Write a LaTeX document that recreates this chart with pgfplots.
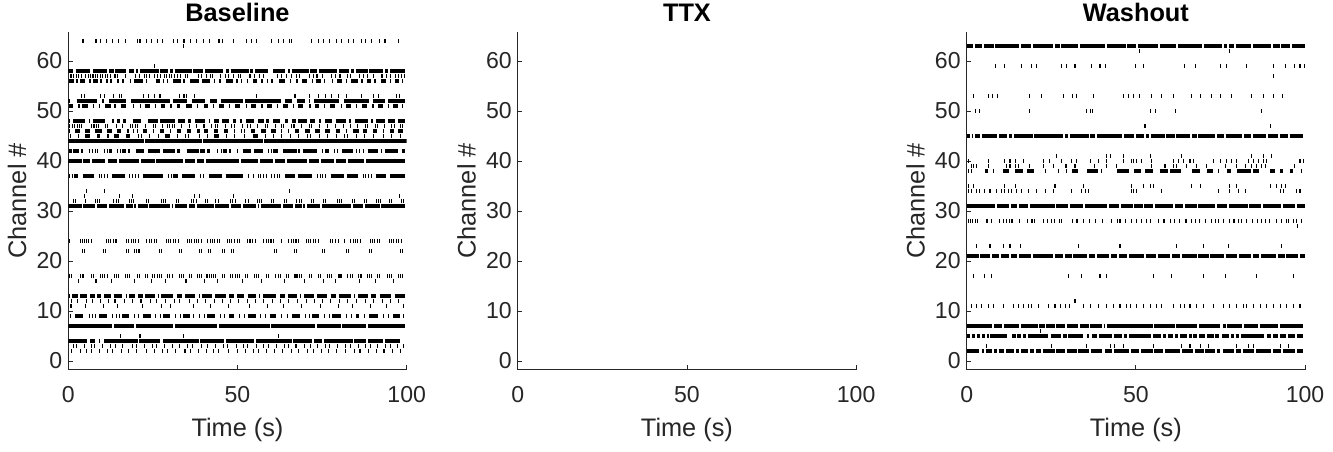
\documentclass[border=0pt]{standalone}
\usepackage{fontspec}
\setmainfont{Liberation Sans}
\usepackage{pgfplots}
\pgfplotsset{compat=1.18}
\definecolor{axgray}{rgb}{0.15,0.15,0.15}
\pgfplotsset{
 rasterax/.style={
  scale only axis, width=253.8pt, height=253.1pt,
  anchor=south west,
  xmin=0, xmax=100, ymin=-1.75, ymax=65.75,
  axis x line*=bottom, axis y line*=left,
  axis line style={axgray, line width=0.6pt},
  tick align=inside, major tick length=3.5pt,
  tick style={axgray, line width=0.6pt},
  xtick={0,50,100}, ytick={0,10,...,60},
  /pgf/number format/assume math mode=true,
  tick label style={font=\fontsize{17.3}{20}\selectfont, text=axgray},
  x tick label style={yshift=-9pt},
  y tick label style={xshift=-1pt},
  xlabel={Time (s)}, ylabel={Channel \#},
  xlabel style={at={(axis description cs:0.5,0)}, anchor=center, yshift=-45.5pt, font=\fontsize{19}{22}\selectfont, text=axgray},
  ylabel style={at={(axis description cs:-0.151,0.5)}, anchor=center, font=\fontsize{19}{22}\selectfont, text=axgray},
  every axis title/.style={at={(axis description cs:0.5,1)}, anchor=base, yshift=8pt, font=\bfseries\fontsize{19}{22}\selectfont},
 },
 seg/.style={black, line width=3pt, unbounded coords=jump, mark=none},
 spk/.style={black, only marks, mark=|, mark size=1.5pt, mark options={line width=0.8pt}},
}
\begin{document}
\begin{tikzpicture}
\useasboundingbox (0,0) rectangle (999.75pt,338.25pt);
% ---------------- Baseline ----------------
\begin{axis}[rasterax, at={(51.2pt,61pt)}, title={Baseline}]
\addplot[seg] coordinates {
(0,58)(1.3,58)(nan,nan)(2.2,58)(6.5,58)(nan,nan)(7.2,58)(11.5,58)(nan,nan)(12,58)(13.5,58)(nan,nan)(13.9,58)(17,58)(nan,nan)(18,58)(19.5,58)(nan,nan)(19.9,58)(20.5,58)(nan,nan)(21.3,58)(26.7,58)(nan,nan)(27,58)(29.5,58)(nan,nan)(30,58)(31,58)(nan,nan)(31.5,58)(36.5,58)(nan,nan)(37,58)(39.8,58)(nan,nan)(40.4,58)(45.8,58)(nan,nan)(46.5,58)(47.5,58)(nan,nan)(48,58)(53.3,58)(nan,nan)(53.8,58)(54.5,58)(nan,nan)(55.2,58)(59,58)(nan,nan)(60.5,58)(64,58)(nan,nan)(65,58)(65.5,58)(nan,nan)(66,58)(71,58)(nan,nan)(71.5,58)(73.5,58)(nan,nan)(74,58)(79.5,58)(nan,nan)(80,58)(83,58)(nan,nan)(83.5,58)(84.5,58)(nan,nan)(85,58)(88.5,58)(nan,nan)(89,58)(93,58)(nan,nan)(93.5,58)(94.5,58)(nan,nan)(95,58)(99.5,58)(nan,nan)
(0.3,56)(1.6,56)(nan,nan)(2.2,56)(2.8,56)(nan,nan)(3.5,56)(5,56)(nan,nan)(6.2,56)(6.6,56)(nan,nan)(7.4,56)(8.9,56)(nan,nan)(9.5,56)(10,56)(nan,nan)(11.2,56)(11.6,56)(nan,nan)(12.3,56)(13,56)(nan,nan)(14.5,56)(14.9,56)(nan,nan)(16,56)(16.4,56)(nan,nan)(18.2,56)(18.6,56)(nan,nan)(19.5,56)(22.1,56)(nan,nan)(23,56)(23.4,56)(nan,nan)(25.8,56)(27,56)(nan,nan)(28,56)(28.3,56)(nan,nan)(29.2,56)(29.6,56)(nan,nan)(31,56)(33.2,56)(nan,nan)(34,56)(34.4,56)(nan,nan)(36,56)(38.5,56)(nan,nan)(39.4,56)(41.9,56)(nan,nan)(43.1,56)(43.5,56)(nan,nan)(44.6,56)(45,56)(nan,nan)(46.5,56)(48.7,56)(nan,nan)(49.7,56)(50.1,56)(nan,nan)(51,56)(51.4,56)(nan,nan)(52.7,56)(53.1,56)(nan,nan)(54.5,56)(55.9,56)(nan,nan)(57,56)(57.4,56)(nan,nan)(58.6,56)(59,56)(nan,nan)(60,56)(60.4,56)(nan,nan)(62.3,56)(64,56)(nan,nan)(65.5,56)(65.9,56)(nan,nan)(67.4,56)(67.8,56)(nan,nan)(69.1,56)(70.6,56)(nan,nan)(72,56)(72.3,56)(nan,nan)(73.1,56)(74.6,56)(nan,nan)(75.6,56)(76,56)(nan,nan)(77.8,56)(78.2,56)(nan,nan)(79.5,56)(81,56)(nan,nan)(82,56)(82.4,56)(nan,nan)(83.5,56)(85.6,56)(nan,nan)(86.6,56)(87,56)(nan,nan)(88.2,56)(89.5,56)(nan,nan)(90.4,56)(90.8,56)(nan,nan)(92.4,56)(93.8,56)(nan,nan)(95.1,56)(95.5,56)(nan,nan)(96.5,56)(97.8,56)(nan,nan)(98.6,56)(99,56)(nan,nan)
(0,52)(0.5,52)(nan,nan)(2.5,52)(8.5,52)(nan,nan)(10,52)(10.5,52)(nan,nan)(12,52)(17,52)(nan,nan)(18.5,52)(30,52)(nan,nan)(31,52)(35,52)(nan,nan)(36.5,52)(40.5,52)(nan,nan)(42,52)(44,52)(nan,nan)(45,52)(51.5,52)(nan,nan)(52.3,52)(63,52)(nan,nan)(64,52)(66,52)(nan,nan)(67.5,52)(70,52)(nan,nan)(71,52)(71.5,52)(nan,nan)(72.5,52)(80,52)(nan,nan)(81.5,52)(89,52)(nan,nan)(90,52)(93.5,52)(nan,nan)(94.5,52)(99.5,52)(nan,nan)
(0.2,51)(1.5,51)(nan,nan)(3,51)(3.4,51)(nan,nan)(4.1,51)(5.8,51)(nan,nan)(7.3,51)(7.7,51)(nan,nan)(9,51)(9.4,51)(nan,nan)(11,51)(12.6,51)(nan,nan)(13.6,51)(14,51)(nan,nan)(15.5,51)(17.2,51)(nan,nan)(19,51)(19.4,51)(nan,nan)(21.1,51)(21.5,51)(nan,nan)(22.6,51)(24.1,51)(nan,nan)(25.5,51)(25.9,51)(nan,nan)(27.3,51)(28.7,51)(nan,nan)(30.2,51)(30.6,51)(nan,nan)(32,51)(33,51)(nan,nan)(34.8,51)(36.5,51)(nan,nan)(38,51)(38.4,51)(nan,nan)(40,51)(41.2,51)(nan,nan)(42.8,51)(43.2,51)(nan,nan)(44.6,51)(46,51)(nan,nan)(47.5,51)(47.9,51)(nan,nan)(49.3,51)(50.8,51)(nan,nan)(52.5,51)(52.9,51)(nan,nan)(54,51)(55.5,51)(nan,nan)(57,51)(57.4,51)(nan,nan)(58.8,51)(60.2,51)(nan,nan)(61.6,51)(62,51)(nan,nan)(63.5,51)(64.8,51)(nan,nan)(66.4,51)(66.8,51)(nan,nan)(68,51)(69.5,51)(nan,nan)(71.2,51)(71.6,51)(nan,nan)(72.8,51)(74,51)(nan,nan)(75.6,51)(76,51)(nan,nan)(77.4,51)(78.8,51)(nan,nan)(80.5,51)(80.9,51)(nan,nan)(82.1,51)(83.5,51)(nan,nan)(85,51)(85.4,51)(nan,nan)(86.8,51)(88.2,51)(nan,nan)(89.9,51)(90.3,51)(nan,nan)(91.5,51)(92.9,51)(nan,nan)(94.4,51)(94.8,51)(nan,nan)(96,51)(97.3,51)(nan,nan)(98.5,51)(99,51)(nan,nan)
(0.2,48)(0.6,48)(nan,nan)(1.5,48)(5,48)(nan,nan)(6,48)(6.5,48)(nan,nan)(7.3,48)(11,48)(nan,nan)(13,48)(13.4,48)(nan,nan)(14.5,48)(15.3,48)(nan,nan)(16.3,48)(17.2,48)(nan,nan)(19,48)(21.5,48)(nan,nan)(23.5,48)(26.5,48)(nan,nan)(27.2,48)(31.5,48)(nan,nan)(32.5,48)(34.5,48)(nan,nan)(35.5,48)(36.3,48)(nan,nan)(37.5,48)(40.5,48)(nan,nan)(41.5,48)(42,48)(nan,nan)(43,48)(44.5,48)(nan,nan)(45.5,48)(47.5,48)(nan,nan)(48.6,48)(49.6,48)(nan,nan)(50.6,48)(51.4,48)(nan,nan)(52.5,48)(55,48)(nan,nan)(56,48)(57.8,48)(nan,nan)(58.5,48)(59.2,48)(nan,nan)(60.5,48)(62.5,48)(nan,nan)(64,48)(65,48)(nan,nan)(66,48)(67.2,48)(nan,nan)(68,48)(70.5,48)(nan,nan)(71.5,48)(73,48)(nan,nan)(74,48)(74.8,48)(nan,nan)(75.8,48)(78,48)(nan,nan)(79,48)(82,48)(nan,nan)(83,48)(83.5,48)(nan,nan)(84.6,48)(88.5,48)(nan,nan)(89.6,48)(90,48)(nan,nan)(91,48)(93.6,48)(nan,nan)(94.5,48)(96.5,48)(nan,nan)(97.4,48)(99.5,48)(nan,nan)
(0.3,46)(0.6,46)(nan,nan)(2,46)(3.5,46)(nan,nan)(5,46)(6.4,46)(nan,nan)(8,46)(10,46)(nan,nan)(11.5,46)(12.8,46)(nan,nan)(14.3,46)(15.6,46)(nan,nan)(17.5,46)(17.8,46)(nan,nan)(19.2,46)(19.5,46)(nan,nan)(20.3,46)(20.6,46)(nan,nan)(22,46)(23.3,46)(nan,nan)(25,46)(25.3,46)(nan,nan)(27,46)(28.2,46)(nan,nan)(30,46)(30.3,46)(nan,nan)(32,46)(33.3,46)(nan,nan)(35,46)(36.3,46)(nan,nan)(38,46)(38.8,46)(nan,nan)(40,46)(41.3,46)(nan,nan)(43,46)(44.3,46)(nan,nan)(46,46)(47.3,46)(nan,nan)(49,46)(49.3,46)(nan,nan)(51,46)(51.3,46)(nan,nan)(52,46)(52.3,46)(nan,nan)(54,46)(55.3,46)(nan,nan)(57,46)(58.3,46)(nan,nan)(60,46)(61.3,46)(nan,nan)(63,46)(63.3,46)(nan,nan)(65,46)(65.3,46)(nan,nan)(67,46)(68.3,46)(nan,nan)(70,46)(71.3,46)(nan,nan)(73,46)(74.3,46)(nan,nan)(76,46)(77.3,46)(nan,nan)(79,46)(80.3,46)(nan,nan)(82,46)(82.3,46)(nan,nan)(84,46)(85.8,46)(nan,nan)(87,46)(88.3,46)(nan,nan)(90,46)(91.3,46)(nan,nan)(93,46)(93.3,46)(nan,nan)(95,46)(96.3,46)(nan,nan)(97.5,46)(98.8,46)(nan,nan)
(0.6,45)(0.9,45)(nan,nan)(3,45)(3.3,45)(nan,nan)(5,45)(6.5,45)(nan,nan)(8.5,45)(9.3,45)(nan,nan)(11.5,45)(12,45)(nan,nan)(13.5,45)(15,45)(nan,nan)(17,45)(18.3,45)(nan,nan)(20.5,45)(20.8,45)(nan,nan)(21.5,45)(21.8,45)(nan,nan)(24,45)(24.3,45)(nan,nan)(26.5,45)(26.8,45)(nan,nan)(28.5,45)(30,45)(nan,nan)(32,45)(32.3,45)(nan,nan)(34.5,45)(34.8,45)(nan,nan)(35.5,45)(35.8,45)(nan,nan)(38.5,45)(38.8,45)(nan,nan)(41,45)(41.3,45)(nan,nan)(43,45)(44.5,45)(nan,nan)(46.5,45)(46.8,45)(nan,nan)(49,45)(49.3,45)(nan,nan)(52,45)(52.3,45)(nan,nan)(54.5,45)(56,45)(nan,nan)(58,45)(58.3,45)(nan,nan)(60.5,45)(60.8,45)(nan,nan)(63,45)(63.3,45)(nan,nan)(65.5,45)(65.8,45)(nan,nan)(68,45)(68.3,45)(nan,nan)(70.5,45)(70.8,45)(nan,nan)(71.5,45)(71.8,45)(nan,nan)(74,45)(74.3,45)(nan,nan)(76.5,45)(76.8,45)(nan,nan)(79,45)(79.3,45)(nan,nan)(81.5,45)(81.8,45)(nan,nan)(82.3,45)(82.6,45)(nan,nan)(85,45)(85.3,45)(nan,nan)(87.5,45)(87.8,45)(nan,nan)(90,45)(90.3,45)(nan,nan)(93,45)(93.3,45)(nan,nan)(95.5,45)(95.8,45)(nan,nan)(98,45)(98.3,45)(nan,nan)
(0,44)(22.5,44)(nan,nan)(22.8,44)(39.5,44)(nan,nan)(39.8,44)(57.5,44)(nan,nan)(57.8,44)(100,44)(nan,nan)
(0.2,42)(1,42)(nan,nan)(1.5,42)(3.3,42)(nan,nan)(3.8,42)(4.5,42)(nan,nan)(6,42)(6.3,42)(nan,nan)(7,42)(7.3,42)(nan,nan)(7.8,42)(8.1,42)(nan,nan)(8.6,42)(8.9,42)(nan,nan)(10.5,42)(10.8,42)(nan,nan)(11.3,42)(11.6,42)(nan,nan)(12.1,42)(12.8,42)(nan,nan)(14.5,42)(14.8,42)(nan,nan)(15.3,42)(15.6,42)(nan,nan)(16,42)(17.2,42)(nan,nan)(17.6,42)(18.3,42)(nan,nan)(20,42)(22.5,42)(nan,nan)(23.5,42)(27,42)(nan,nan)(28,42)(31.5,42)(nan,nan)(32,42)(33,42)(nan,nan)(35,42)(38.5,42)(nan,nan)(39,42)(40.5,42)(nan,nan)(41,42)(42,42)(nan,nan)(44,42)(44.3,42)(nan,nan)(45,42)(45.3,42)(nan,nan)(45.8,42)(47,42)(nan,nan)(47.4,42)(48,42)(nan,nan)(50,42)(50.3,42)(nan,nan)(51.5,42)(54,42)(nan,nan)(55,42)(57.5,42)(nan,nan)(59,42)(59.3,42)(nan,nan)(59.8,42)(60.1,42)(nan,nan)(60.6,42)(62,42)(nan,nan)(63.5,42)(67.5,42)(nan,nan)(68,42)(68.5,42)(nan,nan)(69.5,42)(73.5,42)(nan,nan)(75,42)(75.3,42)(nan,nan)(75.8,42)(77,42)(nan,nan)(78.5,42)(78.8,42)(nan,nan)(79.3,42)(79.6,42)(nan,nan)(81,42)(84,42)(nan,nan)(85,42)(85.3,42)(nan,nan)(86,42)(86.3,42)(nan,nan)(87,42)(87.3,42)(nan,nan)(88.5,42)(91.5,42)(nan,nan)(92.5,42)(92.8,42)(nan,nan)(93.5,42)(97.5,42)(nan,nan)(98.5,42)(99.5,42)(nan,nan)
(0,40)(4,40)(nan,nan)(4.5,40)(6.5,40)(nan,nan)(7,40)(11,40)(nan,nan)(11.6,40)(14.5,40)(nan,nan)(15,40)(21,40)(nan,nan)(21.5,40)(25.5,40)(nan,nan)(26,40)(34,40)(nan,nan)(34.6,40)(37.5,40)(nan,nan)(38,40)(40,40)(nan,nan)(40.6,40)(50.5,40)(nan,nan)(51,40)(56,40)(nan,nan)(56.6,40)(60.5,40)(nan,nan)(61,40)(64,40)(nan,nan)(64.6,40)(70.5,40)(nan,nan)(71,40)(74,40)(nan,nan)(74.6,40)(78.5,40)(nan,nan)(79,40)(82,40)(nan,nan)(82.6,40)(87.5,40)(nan,nan)(88,40)(99.5,40)(nan,nan)
(0.3,37)(0.6,37)(nan,nan)(1,37)(1.3,37)(nan,nan)(1.8,37)(3,37)(nan,nan)(4.5,37)(7.5,37)(nan,nan)(9,37)(9.3,37)(nan,nan)(9.8,37)(10.1,37)(nan,nan)(10.6,37)(10.9,37)(nan,nan)(11.4,37)(11.7,37)(nan,nan)(13,37)(16.8,37)(nan,nan)(18,37)(18.3,37)(nan,nan)(18.8,37)(19.1,37)(nan,nan)(19.6,37)(19.9,37)(nan,nan)(20.5,37)(20.8,37)(nan,nan)(22,37)(28,37)(nan,nan)(29.5,37)(29.8,37)(nan,nan)(30.3,37)(30.6,37)(nan,nan)(31,37)(32.5,37)(nan,nan)(33.5,37)(37.5,37)(nan,nan)(39,37)(39.3,37)(nan,nan)(39.8,37)(40.1,37)(nan,nan)(41.5,37)(45.5,37)(nan,nan)(46.5,37)(51.5,37)(nan,nan)(53,37)(53.3,37)(nan,nan)(54.5,37)(54.8,37)(nan,nan)(56,37)(56.3,37)(nan,nan)(56.8,37)(57.1,37)(nan,nan)(57.6,37)(57.9,37)(nan,nan)(58.4,37)(58.7,37)(nan,nan)(60,37)(60.3,37)(nan,nan)(60.8,37)(61.1,37)(nan,nan)(61.6,37)(61.9,37)(nan,nan)(62.4,37)(62.7,37)(nan,nan)(64,37)(67,37)(nan,nan)(68,37)(72,37)(nan,nan)(73.5,37)(73.8,37)(nan,nan)(74.3,37)(74.6,37)(nan,nan)(75.1,37)(75.4,37)(nan,nan)(75.9,37)(76.2,37)(nan,nan)(77.5,37)(81.5,37)(nan,nan)(82.5,37)(85.5,37)(nan,nan)(87,37)(87.3,37)(nan,nan)(87.8,37)(88.1,37)(nan,nan)(88.6,37)(88.9,37)(nan,nan)(89.4,37)(89.7,37)(nan,nan)(91,37)(94,37)(nan,nan)(95,37)(99.5,37)(nan,nan)
(0,31)(4,31)(nan,nan)(4.5,31)(8,31)(nan,nan)(8.6,31)(11.5,31)(nan,nan)(12,31)(16.5,31)(nan,nan)(17,31)(19,31)(nan,nan)(19.5,31)(20,31)(nan,nan)(20.6,31)(23.5,31)(nan,nan)(24,31)(30,31)(nan,nan)(30.6,31)(31,31)(nan,nan)(31.5,31)(35,31)(nan,nan)(35.6,31)(37.5,31)(nan,nan)(38,31)(43,31)(nan,nan)(43.5,31)(47.5,31)(nan,nan)(48,31)(51,31)(nan,nan)(51.6,31)(55.5,31)(nan,nan)(56,31)(56.5,31)(nan,nan)(57,31)(63,31)(nan,nan)(63.5,31)(66.5,31)(nan,nan)(67,31)(69,31)(nan,nan)(69.5,31)(70,31)(nan,nan)(70.6,31)(74.5,31)(nan,nan)(75,31)(83.5,31)(nan,nan)(84,31)(87,31)(nan,nan)(87.6,31)(92,31)(nan,nan)(92.5,31)(99.5,31)(nan,nan)
(0.2,13)(0.5,13)(nan,nan)(1.2,13)(3,13)(nan,nan)(3.6,13)(5.5,13)(nan,nan)(6.5,13)(7.8,13)(nan,nan)(8.4,13)(9.7,13)(nan,nan)(10.6,13)(12.5,13)(nan,nan)(13.5,13)(16,13)(nan,nan)(17,13)(17.3,13)(nan,nan)(18,13)(19.8,13)(nan,nan)(20.6,13)(22,13)(nan,nan)(22.8,13)(25.5,13)(nan,nan)(26.5,13)(26.8,13)(nan,nan)(27.5,13)(31,13)(nan,nan)(32,13)(33.5,13)(nan,nan)(34.5,13)(37.5,13)(nan,nan)(38.5,13)(38.8,13)(nan,nan)(39.6,13)(42.5,13)(nan,nan)(43.5,13)(46.5,13)(nan,nan)(47.5,13)(49,13)(nan,nan)(50,13)(52,13)(nan,nan)(53,13)(55.5,13)(nan,nan)(56.5,13)(56.8,13)(nan,nan)(57.6,13)(61.5,13)(nan,nan)(62.5,13)(64,13)(nan,nan)(65,13)(67.5,13)(nan,nan)(68.5,13)(68.8,13)(nan,nan)(69.6,13)(72.5,13)(nan,nan)(73.5,13)(76.5,13)(nan,nan)(77.5,13)(79,13)(nan,nan)(80,13)(83.5,13)(nan,nan)(84.5,13)(84.8,13)(nan,nan)(85.6,13)(88.5,13)(nan,nan)(89.5,13)(91,13)(nan,nan)(92,13)(95.5,13)(nan,nan)(96.5,13)(99.5,13)(nan,nan)
(0.5,9)(0.8,9)(nan,nan)(2,9)(4.5,9)(nan,nan)(6,9)(6.3,9)(nan,nan)(7,9)(7.3,9)(nan,nan)(7.8,9)(8.1,9)(nan,nan)(9,9)(11.5,9)(nan,nan)(13,9)(13.3,9)(nan,nan)(14,9)(14.3,9)(nan,nan)(15,9)(15.3,9)(nan,nan)(16,9)(18,9)(nan,nan)(19.5,9)(19.8,9)(nan,nan)(20.5,9)(20.8,9)(nan,nan)(22,9)(24.5,9)(nan,nan)(25.5,9)(25.8,9)(nan,nan)(27,9)(27.3,9)(nan,nan)(28,9)(30,9)(nan,nan)(31.5,9)(31.8,9)(nan,nan)(33,9)(33.3,9)(nan,nan)(34,9)(36,9)(nan,nan)(37,9)(37.3,9)(nan,nan)(38.5,9)(38.8,9)(nan,nan)(40,9)(40.3,9)(nan,nan)(41,9)(43.5,9)(nan,nan)(44.8,9)(45.1,9)(nan,nan)(46,9)(46.3,9)(nan,nan)(47.5,9)(49,9)(nan,nan)(50.5,9)(50.8,9)(nan,nan)(52,9)(52.3,9)(nan,nan)(53,9)(55.5,9)(nan,nan)(56.8,9)(57.1,9)(nan,nan)(58,9)(58.3,9)(nan,nan)(59.5,9)(61.5,9)(nan,nan)(63,9)(63.3,9)(nan,nan)(64.5,9)(64.8,9)(nan,nan)(66,9)(68.5,9)(nan,nan)(70,9)(70.3,9)(nan,nan)(71,9)(71.3,9)(nan,nan)(72,9)(74,9)(nan,nan)(75.5,9)(75.8,9)(nan,nan)(77,9)(77.3,9)(nan,nan)(78,9)(80.5,9)(nan,nan)(82,9)(82.3,9)(nan,nan)(83.5,9)(83.8,9)(nan,nan)(85,9)(86,9)(nan,nan)(87.5,9)(87.8,9)(nan,nan)(89,9)(91.5,9)(nan,nan)(93,9)(93.3,9)(nan,nan)(94.5,9)(94.8,9)(nan,nan)(96,9)(98,9)(nan,nan)(99,9)(99.3,9)(nan,nan)
(0,7)(13,7)(nan,nan)(13.5,7)(19.5,7)(nan,nan)(20,7)(31,7)(nan,nan)(31.5,7)(44,7)(nan,nan)(44.5,7)(59.5,7)(nan,nan)(60,7)(73,7)(nan,nan)(73.5,7)(80.5,7)(nan,nan)(81,7)(88,7)(nan,nan)(88.5,7)(99.5,7)(nan,nan)
(0,4)(5.5,4)(nan,nan)(6.5,4)(8,4)(nan,nan)(9,4)(9.5,4)(nan,nan)(10.5,4)(20.5,4)(nan,nan)(21,4)(27,4)(nan,nan)(28,4)(38.5,4)(nan,nan)(39,4)(46,4)(nan,nan)(46.5,4)(55,4)(nan,nan)(55.5,4)(66,4)(nan,nan)(66.5,4)(72,4)(nan,nan)(72.6,4)(75,4)(nan,nan)(75.5,4)(84,4)(nan,nan)(84.5,4)(88,4)(nan,nan)(88.5,4)(93,4)(nan,nan)(93.5,4)(98,4)
};
\addplot[spk] coordinates {
(4.2,64)(4.6,64)(8.2,64)(9.6,64)(11.3,64)(13.1,64)(14.9,64)(16.8,64)(20.4,64)(21.2,64)(23,64)(24.7,64)(26.3,64)(27.8,64)(31,64)(32.2,64)(34.2,64)(36,64)(37.9,64)(39.9,64)(41.7,64)(44.3,64)(44.8,64)(45.6,64)(48.8,64)(52.7,64)(54.2,64)(55.7,64)(60.1,64)(62.1,64)(63.6,64)(65.5,64)(66,64)(71.9,64)(73.9,64)(75.4,64)(77.3,64)(79.3,64)(80.8,64)(82.8,64)(84.2,64)(86.7,64)(87.7,64)(89.6,64)(92.1,64)(93.6,64)(97.5,64)
(34,63)(25.4,59)
(0.8,57)(1.6,57)(2.5,57)(3.1,57)(4,57)(5.2,57)(5.9,57)(6.5,57)(7.3,57)(8,57)(8.6,57)(9.5,57)(10.2,57)(11,57)(11.7,57)(12.5,57)(13.8,57)(14.6,57)(16.9,57)(19.8,57)(21,57)(22.4,57)(23.1,57)(24,57)(25.5,57)(26.3,57)(27.2,57)(28.4,57)(29.1,57)(29.8,57)(30.6,57)(31.5,57)(32.4,57)(33.2,57)(34.6,57)(35.3,57)(38.6,57)(39.4,57)(40.8,57)(42,57)(42.7,57)(45.1,57)(46.6,57)(47.3,57)(48.9,57)(50.3,57)(51,57)(53.7,57)(55,57)(56.4,57)(57.8,57)(61.9,57)(63,57)(64.6,57)(66,57)(67.5,57)(68.3,57)(71.3,57)(72.6,57)(73.5,57)(75.2,57)(77.9,57)(79.1,57)(80.3,57)(82.6,57)(83.5,57)(86,57)(87.2,57)(88.5,57)(90.1,57)(92.7,57)(94,57)(95.1,57)(96.8,57)(97.6,57)(98.6,57)(99.4,57)
(3.9,53)(4.9,53)(9.4,53)(10.8,53)(13.3,53)(15.1,53)(15.8,53)(22.2,53)(23.6,53)(25.6,53)(27.1,53)(33,53)(34.2,53)(35,53)(37.4,53)(55.7,53)(67,53)(71.4,53)(73.9,53)(75.9,53)(77.8,53)(79.8,53)(82.3,53)(86.7,53)(90.1,53)(91.6,53)(97,53)(98,53)
(0.5,47)(1.2,47)(1.9,47)(2.6,47)(3.3,47)(4,47)(7,47)(7.6,47)(8.3,47)(9,47)(11,47)(11.7,47)(14.2,47)(16,47)(18.5,47)(19.1,47)(19.8,47)(20.4,47)(22.7,47)(25.2,47)(25.9,47)(27.8,47)(29.3,47)(30,47)(30.7,47)(31.4,47)(33.5,47)(35.8,47)(38,47)(40.1,47)(42.3,47)(43.5,47)(44.2,47)(46.4,47)(48.3,47)(49,47)(51.6,47)(53.1,47)(53.8,47)(56,47)(58.3,47)(59,47)(61.2,47)(63,47)(63.7,47)(66,47)(66.7,47)(69,47)(71.2,47)(71.9,47)(74.3,47)(76.5,47)(79,47)(81.2,47)(83.5,47)(85.6,47)(87.8,47)(88.5,47)(90.7,47)(91.4,47)(93.5,47)(95.6,47)(96.3,47)(98.2,47)(98.9,47)
(5.4,34)(10.8,34)(65.3,34)
(4.7,33)(15.1,33)(19,33)(37.2,33)(38.9,33)(48.8,33)(97.8,33)
(1.5,32)(2.1,32)(5,32)(8,32)(8.6,32)(9.3,32)(13.5,32)(14.2,32)(14.8,32)(18,32)(18.7,32)(19.3,32)(23,32)(23.6,32)(27.5,32)(28.2,32)(28.8,32)(32,32)(32.6,32)(36.5,32)(37.1,32)(37.8,32)(40.5,32)(41.2,32)(43.6,32)(44.3,32)(48,32)(48.6,32)(49.3,32)(52.5,32)(53.2,32)(55.8,32)(56.4,32)(57,32)(60.1,32)(60.7,32)(64,32)(64.6,32)(67.5,32)(68.2,32)(68.8,32)(72,32)(72.6,32)(75.5,32)(76.1,32)(79.5,32)(80.2,32)(80.8,32)(84,32)(84.6,32)(87.6,32)(88.2,32)(91,32)(91.7,32)(92.3,32)(95,32)(95.6,32)(98.5,32)(99.1,32)
(0.5,24)(3.6,24)(4.2,24)(4.8,24)(5.4,24)(6,24)(6.8,24)(11.2,24)(11.8,24)(12.5,24)(13.3,24)(14.1,24)(17.3,24)(17.9,24)(18.6,24)(19.3,24)(20,24)(20.8,24)(23.2,24)(23.9,24)(24.6,24)(25.4,24)(26.2,24)(29,24)(29.6,24)(30.3,24)(31,24)(31.7,24)(32.5,24)(35.2,24)(35.8,24)(36.5,24)(37.2,24)(37.9,24)(38.6,24)(39.3,24)(41.2,24)(41.9,24)(42.6,24)(43.3,24)(44,24)(44.8,24)(47,24)(47.6,24)(48.3,24)(49.1,24)(49.9,24)(50.7,24)(53,24)(53.7,24)(54.5,24)(55.3,24)(57.8,24)(58.5,24)(59.2,24)(59.9,24)(60.6,24)(63,24)(65.2,24)(65.9,24)(66.6,24)(67.3,24)(68,24)(70.3,24)(71,24)(71.7,24)(72.4,24)(73.1,24)(73.9,24)(77.5,24)(78.2,24)(79,24)(79.8,24)(81.5,24)(83.5,24)(84.2,24)(84.9,24)(85.6,24)(86.4,24)(89.2,24)(89.9,24)(90.6,24)(91.3,24)(92.1,24)(94.8,24)(95.5,24)(96.2,24)(96.9,24)(97.7,24)(98.4,24)
(4.2,22)(4.8,22)(10.4,22)(11,22)(17.2,22)(17.8,22)(19.6,22)(20.2,22)(20.9,22)(26.9,22)(27.5,22)(32.8,22)(33.4,22)(38.7,22)(39.3,22)(41.4,22)(42,22)(45.6,22)(46.2,22)(48.3,22)(48.9,22)(60.9,22)(61.5,22)(66.8,22)(67.4,22)(75.2,22)(75.8,22)(82.1,22)(82.7,22)(89,22)(89.6,22)(98.2,22)(98.8,22)
(0.4,17)(1,17)(3.5,17)(4.1,17)(4.6,17)(6.8,17)(7.4,17)(9.5,17)(10.2,17)(10.8,17)(11.5,17)(13.6,17)(14.2,17)(14.9,17)(16.8,17)(17.4,17)(18.1,17)(20.5,17)(21.1,17)(22.7,17)(23.4,17)(25,17)(25.6,17)(26.3,17)(27,17)(27.6,17)(29.4,17)(30,17)(30.7,17)(32.8,17)(33.4,17)(34.1,17)(35.9,17)(36.5,17)(38.1,17)(38.8,17)(39.4,17)(41,17)(41.6,17)(42.3,17)(43,17)(43.6,17)(45.5,17)(46.1,17)(48,17)(48.6,17)(49.3,17)(50,17)(50.6,17)(52.5,17)(53.1,17)(55,17)(55.6,17)(56.3,17)(58.6,17)(59.2,17)(61.3,17)(62,17)(62.6,17)(64.5,17)(65.1,17)(67,17)(67.6,17)(68.3,17)(69,17)(71.2,17)(71.9,17)(74,17)(74.6,17)(76.6,17)(77.3,17)(77.9,17)(80,17)(80.6,17)(82.6,17)(83.3,17)(84,17)(85.8,17)(86.5,17)(88.4,17)(89,17)(89.6,17)(91.5,17)(92.1,17)(94.3,17)(95,17)(95.6,17)(97.5,17)(98.1,17)(98.7,17)
(3,16)(8.2,16)(12.8,16)(19.5,16)(24.5,16)(28.7,16)(34.8,16)(40.3,16)(44,16)(51.5,16)(57,16)(63.8,16)(69.7,16)(75.3,16)(79.1,16)(86,16)(90.8,16)(96.2,16)
(1,12)(2.8,12)(5.5,12)(7.2,12)(9.5,12)(12,12)(13.8,12)(16.5,12)(19,12)(21.5,12)(24.3,12)(26,12)(28.8,12)(31.5,12)(33,12)(35.8,12)(38.2,12)(40.5,12)(43.3,12)(45.6,12)(48,12)(50.2,12)(52.9,12)(55.2,12)(57.6,12)(60.3,12)(62.8,12)(65.1,12)(67.8,12)(70.4,12)(72.9,12)(75.1,12)(77.6,12)(80.2,12)(82.6,12)(85.3,12)(87.7,12)(90.2,12)(92.8,12)(95.3,12)(97.6,12)
(0.8,11)(5,11)(10.3,11)(14.6,11)(22,11)(27.5,11)(30.1,11)(36.9,11)(42,11)(47.3,11)(53.6,11)(59,11)(63.5,11)(68.9,11)(74.4,11)(79.8,11)(83.9,11)(89.4,11)(94,11)(99,11)
(15.3,5)(21.2,5)(34,5)(62,5)
(1.5,3)(2.3,3)(4.7,3)(7,3)(7.8,3)(10.2,3)(12.5,3)(14,3)(16.1,3)(18.9,3)(20.3,3)(22.5,3)(24.8,3)(26,3)(28.4,3)(30.9,3)(33,3)(35.3,3)(36.8,3)(39.5,3)(41.2,3)(43.4,3)(45.9,3)(47.1,3)(49.6,3)(51.7,3)(53,3)(55.5,3)(57.8,3)(59.1,3)(61.6,3)(63.9,3)(65.2,3)(67.3,3)(69.8,3)(71.5,3)(73.6,3)(75.9,3)(77.2,3)(79.6,3)(82,3)(83.3,3)(85.7,3)(87.9,3)(89.2,3)(91.5,3)(93.8,3)(95.1,3)(97.3,3)(99,3)
(1,2)(3.5,2)(5.5,2)(6.9,2)(9.2,2)(11.6,2)(13,2)(15.6,2)(17.8,2)(20.2,2)(23,2)(25.4,2)(27.9,2)(29.3,2)(31.8,2)(34.5,2)(36.1,2)(38.4,2)(40.8,2)(43,2)(44.5,2)(47.4,2)(50,2)(52.3,2)(54.8,2)(56.2,2)(58.6,2)(61,2)(63.4,2)(65.9,2)(68.1,2)(70.6,2)(72.4,2)(74.9,2)(77,2)(79.3,2)(81.9,2)(84.5,2)(86.2,2)(88.8,2)(91,2)(93.3,2)(95.8,2)(98.2,2)
};
\end{axis}
% ---------------- TTX ----------------
\begin{axis}[rasterax, at={(388.3pt,61pt)}, title={TTX}]
\end{axis}
% ---------------- Washout ----------------
\begin{axis}[rasterax, at={(725pt,61pt)}, title={Washout}]
\addplot[seg] coordinates {
(0,63)(2,63)(nan,nan)(2.4,63)(4.5,63)(nan,nan)(5,63)(8,63)(nan,nan)(8.5,63)(15.5,63)(nan,nan)(16,63)(19,63)(nan,nan)(19.5,63)(25.5,63)(nan,nan)(26,63)(27.5,63)(nan,nan)(28,63)(33,63)(nan,nan)(33.5,63)(41,63)(nan,nan)(41.5,63)(47,63)(nan,nan)(47.5,63)(50,63)(nan,nan)(50.6,63)(56.5,63)(nan,nan)(57,63)(62,63)(nan,nan)(62.5,63)(69.5,63)(nan,nan)(70,63)(75.5,63)(nan,nan)(76,63)(77,63)(nan,nan)(77.5,63)(79,63)(nan,nan)(79.6,63)(84,63)(nan,nan)(84.5,63)(90,63)(nan,nan)(90.5,63)(92.5,63)(nan,nan)(93,63)(95.5,63)(nan,nan)(96,63)(100,63)(nan,nan)
(0,45)(1,45)(nan,nan)(1.5,45)(2,45)(nan,nan)(2.5,45)(4,45)(nan,nan)(4.5,45)(9,45)(nan,nan)(9.5,45)(12,45)(nan,nan)(12.5,45)(13.5,45)(nan,nan)(14,45)(19.5,45)(nan,nan)(20,45)(28.5,45)(nan,nan)(29,45)(30,45)(nan,nan)(30.5,45)(36,45)(nan,nan)(36.5,45)(38,45)(nan,nan)(38.5,45)(46,45)(nan,nan)(46.6,45)(49.5,45)(nan,nan)(50,45)(52.5,45)(nan,nan)(53,45)(54,45)(nan,nan)(54.6,45)(58.5,45)(nan,nan)(59,45)(61.5,45)(nan,nan)(62,45)(66,45)(nan,nan)(66.5,45)(68,45)(nan,nan)(68.5,45)(73.5,45)(nan,nan)(74,45)(76,45)(nan,nan)(76.5,45)(81.5,45)(nan,nan)(82,45)(84,45)(nan,nan)(84.5,45)(88.5,45)(nan,nan)(89,45)(92,45)(nan,nan)(92.5,45)(95,45)(nan,nan)(95.5,45)(99.5,45)(nan,nan)
(5.4,38)(6.4,38)(nan,nan)(10.8,38)(12.6,38)(nan,nan)(14.3,38)(16.5,38)(nan,nan)(17.7,38)(20,38)(nan,nan)(31,38)(32.8,38)(nan,nan)(35.5,38)(38.7,38)(nan,nan)(44.3,38)(48,38)(nan,nan)(49.3,38)(51.5,38)(nan,nan)(52.7,38)(55,38)(nan,nan)(57.1,38)(59.4,38)(nan,nan)(60.1,38)(63.3,38)(nan,nan)(66.5,38)(68.8,38)(nan,nan)(70.9,38)(72.7,38)(nan,nan)(76.8,38)(78.1,38)(nan,nan)(79.8,38)(84,38)(nan,nan)(84.7,38)(86.5,38)(nan,nan)(89.7,38)(91,38)(nan,nan)(92.6,38)(93.5,38)(nan,nan)(95.6,38)(96.5,38)(nan,nan)
(0,31)(8.5,31)(nan,nan)(9,31)(12.5,31)(nan,nan)(13,31)(15,31)(nan,nan)(15.5,31)(18,31)(nan,nan)(18.6,31)(26,31)(nan,nan)(26.5,31)(30,31)(nan,nan)(30.5,31)(34.5,31)(nan,nan)(35,31)(41.5,31)(nan,nan)(42,31)(45,31)(nan,nan)(45.6,31)(49,31)(nan,nan)(49.5,31)(52,31)(nan,nan)(52.5,31)(55,31)(nan,nan)(55.6,31)(61,31)(nan,nan)(61.5,31)(64,31)(nan,nan)(64.6,31)(68,31)(nan,nan)(68.5,31)(73.5,31)(nan,nan)(74,31)(77,31)(nan,nan)(77.6,31)(83,31)(nan,nan)(83.5,31)(87,31)(nan,nan)(87.5,31)(93,31)(nan,nan)(93.6,31)(97,31)(nan,nan)(97.5,31)(100,31)(nan,nan)
(0,21)(3.5,21)(nan,nan)(4,21)(7,21)(nan,nan)(7.5,21)(9.5,21)(nan,nan)(10,21)(12.5,21)(nan,nan)(13,21)(15,21)(nan,nan)(15.5,21)(19,21)(nan,nan)(19.5,21)(25.5,21)(nan,nan)(26,21)(28.5,21)(nan,nan)(29,21)(31,21)(nan,nan)(31.5,21)(35.5,21)(nan,nan)(36,21)(38,21)(nan,nan)(38.5,21)(42,21)(nan,nan)(42.5,21)(44.5,21)(nan,nan)(45,21)(47.5,21)(nan,nan)(48,21)(52.5,21)(nan,nan)(53,21)(56,21)(nan,nan)(56.5,21)(60,21)(nan,nan)(60.6,21)(63,21)(nan,nan)(63.5,21)(68,21)(nan,nan)(68.5,21)(71.5,21)(nan,nan)(72,21)(76,21)(nan,nan)(76.6,21)(80,21)(nan,nan)(80.5,21)(84,21)(nan,nan)(84.5,21)(86.5,21)(nan,nan)(87,21)(91.5,21)(nan,nan)(92,21)(94,21)(nan,nan)(94.5,21)(98,21)(nan,nan)(98.5,21)(100,21)(nan,nan)
(0,7)(7.5,7)(nan,nan)(8,7)(10.5,7)(nan,nan)(11,7)(15.5,7)(nan,nan)(16,7)(21,7)(nan,nan)(21.5,7)(23,7)(nan,nan)(23.5,7)(26,7)(nan,nan)(26.5,7)(29,7)(nan,nan)(29.5,7)(33,7)(nan,nan)(33.5,7)(36,7)(nan,nan)(36.5,7)(40,7)(nan,nan)(40.5,7)(41,7)(nan,nan)(41.6,7)(55,7)(nan,nan)(55.5,7)(61.5,7)(nan,nan)(62,7)(68,7)(nan,nan)(68.6,7)(75,7)(nan,nan)(75.6,7)(76.5,7)(nan,nan)(77,7)(81.5,7)(nan,nan)(82,7)(86,7)(nan,nan)(86.6,7)(92,7)(nan,nan)(92.6,7)(99.5,7)(nan,nan)
(0,5)(1,5)(nan,nan)(1.6,5)(2.5,5)(nan,nan)(3,5)(4,5)(nan,nan)(4.6,5)(5.5,5)(nan,nan)(6,5)(6.5,5)(nan,nan)(7,5)(12,5)(nan,nan)(13.5,5)(14.5,5)(nan,nan)(15,5)(16,5)(nan,nan)(16.6,5)(17.5,5)(nan,nan)(18,5)(24,5)(nan,nan)(25,5)(28,5)(nan,nan)(28.6,5)(29.5,5)(nan,nan)(30,5)(34.5,5)(nan,nan)(35.5,5)(36,5)(nan,nan)(37,5)(38.5,5)(nan,nan)(39,5)(43,5)(nan,nan)(43.6,5)(46,5)(nan,nan)(46.5,5)(47.5,5)(nan,nan)(48,5)(54.5,5)(nan,nan)(55,5)(57.5,5)(nan,nan)(58,5)(59,5)(nan,nan)(59.6,5)(61,5)(nan,nan)(61.5,5)(62.5,5)(nan,nan)(63,5)(65,5)(nan,nan)(65.6,5)(66.5,5)(nan,nan)(67,5)(68,5)(nan,nan)(68.6,5)(70.5,5)(nan,nan)(71,5)(73,5)(nan,nan)(73.5,5)(74.5,5)(nan,nan)(75.5,5)(77.5,5)(nan,nan)(78,5)(79,5)(nan,nan)(79.5,5)(80.5,5)(nan,nan)(81,5)(88,5)(nan,nan)(88.6,5)(90,5)(nan,nan)(90.5,5)(92,5)(nan,nan)(92.5,5)(94.5,5)(nan,nan)(95,5)(97,5)(nan,nan)(97.5,5)(99.5,5)(nan,nan)
(0,2)(3.5,2)(nan,nan)(4.5,2)(5,2)(nan,nan)(5.6,2)(7.5,2)(nan,nan)(8,2)(9,2)(nan,nan)(9.5,2)(11,2)(nan,nan)(11.6,2)(14,2)(nan,nan)(14.5,2)(15.5,2)(nan,nan)(16,2)(18,2)(nan,nan)(18.6,2)(20,2)(nan,nan)(20.5,2)(22,2)(nan,nan)(22.6,2)(26,2)(nan,nan)(26.5,2)(29,2)(nan,nan)(29.5,2)(32.5,2)(nan,nan)(33,2)(36,2)(nan,nan)(36.6,2)(40,2)(nan,nan)(41,2)(43,2)(nan,nan)(43.6,2)(48,2)(nan,nan)(48.5,2)(51,2)(nan,nan)(51.6,2)(55,2)(nan,nan)(55.5,2)(58,2)(nan,nan)(58.5,2)(63,2)(nan,nan)(63.6,2)(67,2)(nan,nan)(67.5,2)(70,2)(nan,nan)(70.5,2)(73.5,2)(nan,nan)(74,2)(75,2)(nan,nan)(75.6,2)(79,2)(nan,nan)(79.5,2)(81,2)(nan,nan)(81.6,2)(85,2)(nan,nan)(85.5,2)(90,2)(nan,nan)(90.6,2)(93,2)(nan,nan)(93.5,2)(97,2)(nan,nan)(97.6,2)(99.5,2)
};
\addplot[spk] coordinates {
(51,62)(77.6,62)
(8.4,59)(11.3,59)(16.3,59)(19.2,59)(20.7,59)(28.1,59)(29.4,59)(32,59)(36.9,59)(39.4,59)(40.9,59)(49.8,59)(52.2,59)(64.5,59)(67.5,59)(74.9,59)(76.8,59)(82.6,59)(90.6,59)(94.1,59)(97,59)(98.5,59)(99.8,59)
(90.6,57)
(2,53)(6.4,53)(7.7,53)(9.1,53)(18.5,53)(22.2,53)(28.6,53)(31.3,53)(32.5,53)(37.4,53)(46.3,53)(47.8,53)(49.3,53)(51.2,53)(54.7,53)(57.6,53)(61.1,53)(66.5,53)(69,53)(72.4,53)(74.9,53)(78.3,53)(84.2,53)(87.7,53)(90.6,53)(93.4,53)
(2.5,50)(3.9,50)(18.7,50)(35.5,50)(36.7,50)(37.2,50)(54.2,50)(55.7,50)(61.6,50)(87.2,50)
(52.7,47)(89.7,47)
(26.6,41)(41.4,41)(42.4,41)(46.3,41)(54.2,41)(63.5,41)(84.2,41)(87.7,41)(90.1,41)
(0.5,40)(6.4,40)(11.3,40)(12.8,40)(14.3,40)(16.7,40)(22.7,40)(24.6,40)(28.1,40)(31,40)(32.5,40)(36.5,40)(38.9,40)(41.4,40)(46.3,40)(48.8,40)(49.3,40)(50.2,40)(51.7,40)(54.7,40)(61.1,40)(62.6,40)(64,40)(66,40)(67,40)(72.9,40)(74.9,40)(76.8,40)(78.3,40)(79.8,40)(83.3,40)(84.7,40)(86.2,40)(87.7,40)(88.7,40)(98.5,40)(99.5,40)
(1.5,39)(2,39)(3,39)(6.4,39)(11.8,39)(12.8,39)(14.3,39)(15.3,39)(18.7,39)(22.7,39)(25.6,39)(29.1,39)(29.6,39)(32,39)(37.9,39)(41.4,39)(44.3,39)(54.7,39)(58.6,39)(61.1,39)(62.1,39)(65,39)(68,39)(70.9,39)(76.4,39)(79.8,39)(82.3,39)(84.2,39)(85.7,39)(87.2,39)(88.2,39)(97,39)
(0.5,38)(1.5,38)(7.9,38)(23.2,38)(27.1,38)(29.6,38)(39.9,38)(74.4,38)(99,38)
(0.5,35)(2,35)(11.3,35)(14.3,35)(26.1,35)(34.5,35)(48.8,35)(52.2,35)(54.2,35)(55.2,35)(66.5,35)(69,35)(77.8,35)(79.8,35)(89.7,35)(91.6,35)(93.1,35)(94.1,35)
(0.5,34)(1.5,34)(3,34)(3.9,34)(5.4,34)(6.9,34)(8.9,34)(10.3,34)(11.3,34)(12.3,34)(13.3,34)(14.8,34)(16.3,34)(18.2,34)(20.7,34)(23.2,34)(25.6,34)(31,34)(34,34)(35,34)(36,34)(48.8,34)(49.3,34)(50.2,34)(57.6,34)(74.4,34)(77.8,34)(80.3,34)(82.3,34)(92.6,34)(93.6,34)(97.5,34)(98.5,34)
(0.4,28)(1.2,28)(1.8,28)(2.6,28)(3.3,28)(6,28)(7.2,28)(9.8,28)(11,28)(11.7,28)(12.6,28)(13.4,28)(15.6,28)(17.9,28)(19.3,28)(20.1,28)(22.6,28)(23.9,28)(25.2,28)(26,28)(27.3,28)(28.1,28)(31.3,28)(32.6,28)(34.5,28)(36.4,28)(38.2,28)(40,28)(42.8,28)(44.5,28)(45.3,28)(46.8,28)(48.7,28)(50.2,28)(51.6,28)(53,28)(54.4,28)(56.6,28)(58.3,28)(60.2,28)(61.5,28)(63,28)(64.8,28)(66.3,28)(67.6,28)(68.9,28)(70.5,28)(72.3,28)(73.5,28)(74.3,28)(75.8,28)(77.7,28)(79,28)(80.4,28)(81.3,28)(82.8,28)(84.5,28)(86,28)(87.1,28)(88.3,28)(89.6,28)(91.5,28)(93,28)(94.4,28)(95.2,28)(96.7,28)(97.6,28)(98.9,28)(97.8,27)
(3,23)(6.9,23)(10.8,23)(12.8,23)(15.8,23)(33,23)(45.3,23)(62.1,23)(70,23)(77.3,23)(93.1,23)
(2,17)(5.4,17)(7.4,17)(30,17)(34,17)(39.4,17)(41.4,17)(55.2,17)(60.6,17)(70,17)(76.4,17)(85.7,17)(96.6,17)
(32,12)
(1.5,11)(3,11)(4.4,11)(6.4,11)(7.9,11)(10.8,11)(13.8,11)(15.3,11)(16.7,11)(18.2,11)(19.2,11)(21.2,11)(24.1,11)(26.1,11)(27.6,11)(29.1,11)(30.5,11)(34.5,11)(36.5,11)(38.9,11)(41.4,11)(43.3,11)(45.3,11)(47.3,11)(48.3,11)(50.2,11)(52.2,11)(54.2,11)(56.2,11)(57.6,11)(61.1,11)(63.1,11)(64.5,11)(66,11)(68,11)(69.9,11)(72.9,11)(75.9,11)(77.8,11)(79.8,11)(81.8,11)(82.8,11)(84.7,11)(86.7,11)(88.7,11)(90.6,11)(92.6,11)(94.6,11)(96.6,11)(98.5,11)
(21.7,6)
(5.9,3)(25.1,3)(35.5,3)(42.4,3)(43.8,3)(46.3,3)(55.2,3)(63.5,3)(66,3)(69,3)(71.4,3)(79.8,3)(83.3,3)(84.7,3)(92.6,3)(95.1,3)
};
\end{axis}
\end{tikzpicture}
\end{document}
